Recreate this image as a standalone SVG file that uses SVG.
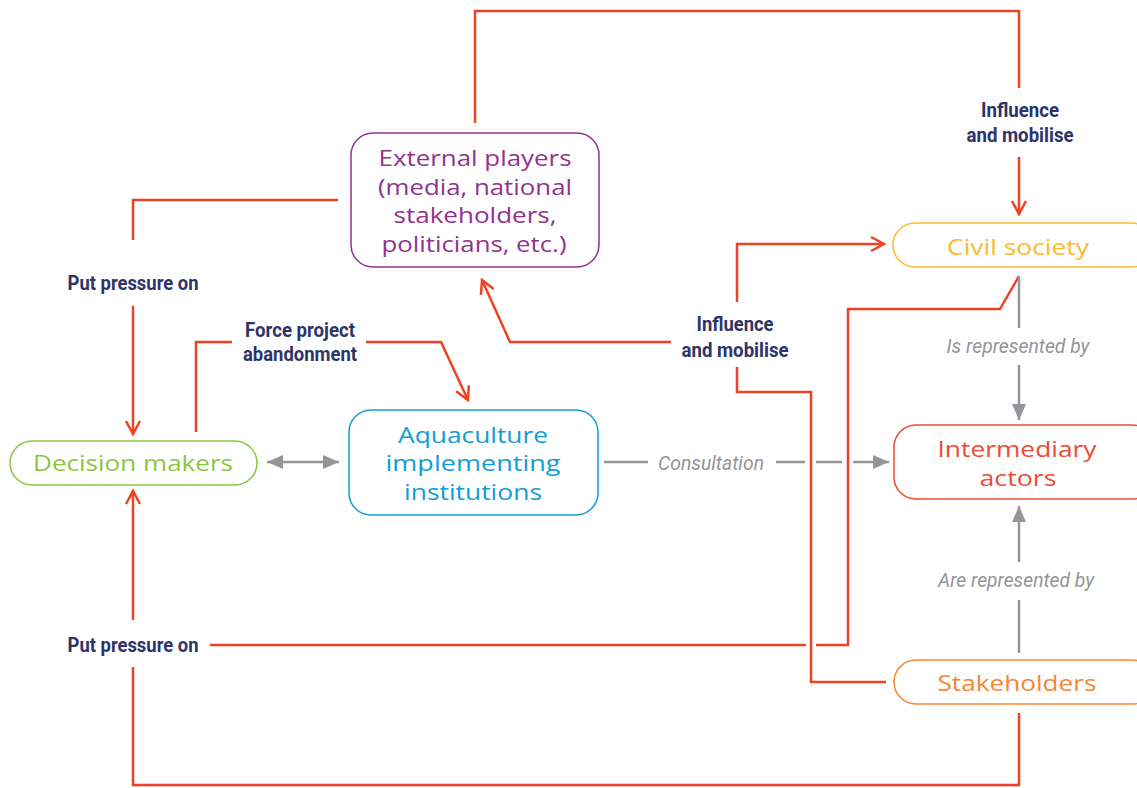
<svg xmlns="http://www.w3.org/2000/svg" width="1137" height="788" viewBox="0 0 1137 788">
<style>
.node{fill:#fff;stroke-width:1.5}
.nt{font-family:"Open Sans","Noto Sans",sans-serif;font-size:22px;text-anchor:middle}
.lbl{font-family:Roboto,"Liberation Sans",sans-serif;font-weight:bold;font-size:20px;fill:#2d3469;text-anchor:middle}
.glbl{font-family:Roboto,"Liberation Sans",sans-serif;font-style:italic;font-size:20px;fill:#939598;text-anchor:middle}
.r{fill:none;stroke:#ef4123;stroke-width:2.5;stroke-linejoin:miter}
.ra{fill:none;stroke:#ef4123;stroke-width:2.5;marker-end:url(#ro)}
.g{fill:none;stroke:#939598;stroke-width:2.5}
.ga{fill:none;stroke:#939598;stroke-width:2.5;marker-end:url(#gf)}
</style>
<defs>
<marker id="ro" markerUnits="userSpaceOnUse" markerWidth="20" markerHeight="20" refX="14" refY="8" orient="auto" viewBox="0 0 20 16">
<path d="M1,1 L14,8 L1,15" fill="none" stroke="#ef4123" stroke-width="2.5"/>
</marker>
<marker id="gf" markerUnits="userSpaceOnUse" markerWidth="16" markerHeight="14" refX="16" refY="7" orient="auto" viewBox="0 0 16 14">
<path d="M0,0 L16,7 L0,14 z" fill="#939598"/>
</marker>
<marker id="gs" markerUnits="userSpaceOnUse" markerWidth="16" markerHeight="14" refX="0" refY="7" orient="auto" viewBox="0 0 16 14">
<path d="M16,0 L0,7 L16,14 z" fill="#939598"/>
</marker>
</defs>
<rect width="1137" height="788" fill="#fff"/>

<g id="connectors">
<path class="r" d="M475,123 V11 H1019 V88"/>
<path class="ra" d="M1019,157 V214"/>
<text class="lbl" x="1020" y="117" textLength="78" lengthAdjust="spacingAndGlyphs">Influence</text>
<text class="lbl" x="1020" y="142" textLength="107" lengthAdjust="spacingAndGlyphs">and mobilise</text>

<path class="r" d="M338,200 H133 V240"/>
<path class="ra" d="M133,306 V434"/>
<text class="lbl" x="133" y="290" textLength="131" lengthAdjust="spacingAndGlyphs">Put pressure on</text>

<path class="r" d="M196,432 V342 H232"/>
<path class="ra" d="M366,342 H441 L468,400"/>
<text class="lbl" x="300" y="337" textLength="110" lengthAdjust="spacingAndGlyphs">Force project</text>
<text class="lbl" x="300" y="361" textLength="114" lengthAdjust="spacingAndGlyphs">abandonment</text>

<path class="r" d="M886,682 H811 V392 H737 V367"/>
<path class="ra" d="M737,302 V244 H884"/>
<path class="ra" d="M671,342 H510 L482,280"/>
<text class="lbl" x="735" y="331" textLength="77" lengthAdjust="spacingAndGlyphs">Influence</text>
<text class="lbl" x="735" y="357" textLength="107" lengthAdjust="spacingAndGlyphs">and mobilise</text>

<path class="r" d="M1019,276 L1000,309 H848 V645 H816"/>
<path class="r" d="M806,645 H210"/>
<path class="ra" d="M133,620 V491"/>
<text class="lbl" x="133" y="652" textLength="131" lengthAdjust="spacingAndGlyphs">Put pressure on</text>

<path class="r" d="M1019,713 V785 H133 V667"/>

<path class="g" d="M267,462 H339" marker-start="url(#gs)" marker-end="url(#gf)"/>

<path class="g" d="M604,462 H648"/>
<path class="g" d="M776,462 H805 M816,462 H842"/>
<path class="ga" d="M853,462 H889"/>
<text class="glbl" x="711" y="470" textLength="106" lengthAdjust="spacingAndGlyphs">Consultation</text>

<path class="g" d="M1019,276 V328"/>
<path class="ga" d="M1019,365 V420"/>
<text class="glbl" x="1018" y="353" textLength="143" lengthAdjust="spacingAndGlyphs">Is represented by</text>

<path class="g" d="M1019,653 V600"/>
<path class="ga" d="M1019,562 V506"/>
<text class="glbl" x="1016" y="587" textLength="156" lengthAdjust="spacingAndGlyphs">Are represented by</text>
</g>

<g id="external-players">
<rect class="node" x="351" y="133" width="248" height="134" rx="22" stroke="#93328e"/>
<text class="nt" fill="#93328e" x="475" y="166" textLength="193" lengthAdjust="spacingAndGlyphs">External players</text>
<text class="nt" fill="#93328e" x="475" y="195" textLength="194" lengthAdjust="spacingAndGlyphs">(media, national</text>
<text class="nt" fill="#93328e" x="475" y="223" textLength="163" lengthAdjust="spacingAndGlyphs">stakeholders,</text>
<text class="nt" fill="#93328e" x="474" y="252" textLength="185" lengthAdjust="spacingAndGlyphs">politicians, etc.)</text>
</g>

<g id="decision-makers">
<rect class="node" x="10" y="441" width="247" height="44" rx="22" stroke="#8cc63f"/>
<text class="nt" fill="#8cc63f" x="133" y="471" textLength="200" lengthAdjust="spacingAndGlyphs">Decision makers</text>
</g>

<g id="aquaculture">
<rect class="node" x="349" y="410" width="249" height="105" rx="22" stroke="#119dd6"/>
<text class="nt" fill="#119dd6" x="473" y="443" textLength="150" lengthAdjust="spacingAndGlyphs">Aquaculture</text>
<text class="nt" fill="#119dd6" x="473" y="471" textLength="175" lengthAdjust="spacingAndGlyphs">implementing</text>
<text class="nt" fill="#119dd6" x="473" y="500" textLength="138" lengthAdjust="spacingAndGlyphs">institutions</text>
</g>

<g id="civil-society">
<rect class="node" x="893" y="223" width="260" height="44" rx="22" stroke="#fbbb2c"/>
<text class="nt" fill="#fbbb2c" x="1018" y="255" textLength="142" lengthAdjust="spacingAndGlyphs">Civil society</text>
</g>

<g id="intermediary-actors">
<rect class="node" x="894" y="425" width="260" height="74" rx="22" stroke="#ef4a35"/>
<text class="nt" fill="#ef4a35" x="1017" y="457" textLength="159" lengthAdjust="spacingAndGlyphs">Intermediary</text>
<text class="nt" fill="#ef4a35" x="1018" y="486" textLength="77" lengthAdjust="spacingAndGlyphs">actors</text>
</g>

<g id="stakeholders">
<rect class="node" x="894" y="660" width="260" height="44" rx="22" stroke="#f7862f"/>
<text class="nt" fill="#f7862f" x="1017" y="691" textLength="159" lengthAdjust="spacingAndGlyphs">Stakeholders</text>
</g>
</svg>
